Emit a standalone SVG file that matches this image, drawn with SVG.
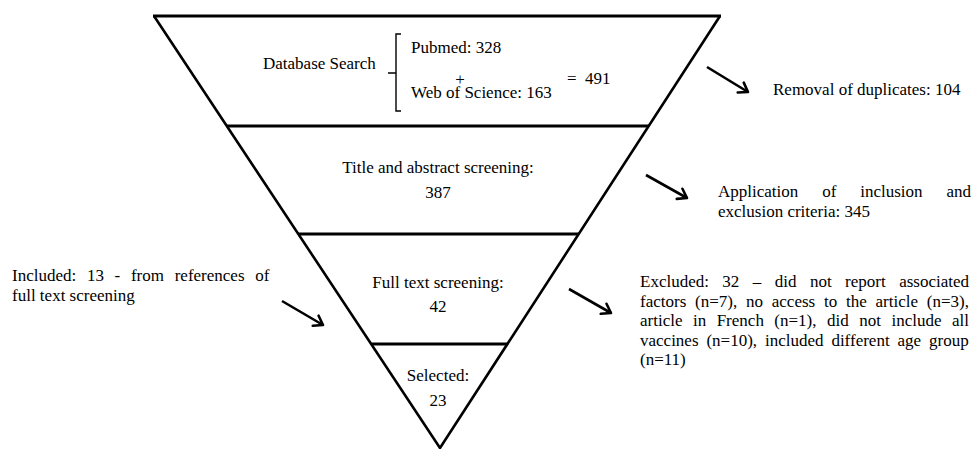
<svg xmlns="http://www.w3.org/2000/svg" width="972" height="449" viewBox="0 0 972 449">
<style>
text{font-family:"Liberation Serif","Times New Roman",serif;font-size:17px;fill:#000}
.c{text-anchor:middle}
.side{fill:none;stroke:#000;stroke-width:2.6;stroke-linejoin:miter}
.div{stroke:#000;stroke-width:3.2;fill:none}
.br{fill:none;stroke:#000;stroke-width:1.4}
.arr{stroke:#000;stroke-width:2.6;fill:none;marker-end:url(#ah)}
</style>
<defs>
<marker id="ah" markerUnits="userSpaceOnUse" viewBox="-11 -8 13 16" markerWidth="13" markerHeight="16" refX="0" refY="0" orient="auto">
<path d="M-8.5,-5.8 L0,0 L-8.5,5.8" fill="none" stroke="#000" stroke-width="2.6" stroke-linejoin="round" stroke-linecap="round"/>
</marker>
</defs>
<g id="funnel">
<path class="side" d="M154,16 L440,448 L720,16"/>
</g>
<g id="database-search">
<line class="div" x1="153" y1="16" x2="721" y2="16"/>
<text x="263" y="69">Database Search</text>
<path class="br" d="M401,34 H396 V111 H401 M388,73 H396"/>
<text x="411" y="53">Pubmed: 328</text>
<text class="c" x="460" y="85">+</text>
<text x="411" y="98">Web of Science: 163</text>
<text x="567" y="84" xml:space="preserve">=  491</text>
</g>
<g id="title-abstract">
<line class="div" x1="226.8" y1="126" x2="648.7" y2="126"/>
<text class="c" x="438" y="173">Title and abstract screening:</text>
<text class="c" x="438" y="198">387</text>
</g>
<g id="full-text">
<line class="div" x1="298.3" y1="234" x2="578.7" y2="234"/>
<text class="c" x="438" y="288">Full text screening:</text>
<text class="c" x="438" y="312">42</text>
</g>
<g id="selected">
<line class="div" x1="371.1" y1="344" x2="507.5" y2="344"/>
<text class="c" x="438" y="381">Selected:</text>
<text class="c" x="438" y="406">23</text>
</g>
<g id="removal">
<text x="773" y="95">Removal of duplicates: 104</text>
</g>
<g id="application">
<text x="718" y="197" style="word-spacing:19.65px">Application of inclusion and</text>
<text x="718" y="216.5">exclusion criteria: 345</text>
</g>
<g id="included">
<text x="12" y="281" style="word-spacing:6.45px">Included: 13 - from references of</text>
<text x="12" y="301">full text screening</text>
</g>
<g id="excluded">
<text x="640" y="287" style="word-spacing:9.2px">Excluded: 32 – did not report associated</text>
<text x="640" y="306.6" style="word-spacing:4.54px">factors (n=7), no access to the article (n=3),</text>
<text x="640" y="326.2" style="word-spacing:6.24px">article in French (n=1), did not include all</text>
<text x="640" y="345.8" style="word-spacing:3.64px">vaccines (n=10), included different age group</text>
<text x="640" y="365.4">(n=11)</text>
</g>
<g id="connectors">
<line class="arr" x1="707" y1="67" x2="748" y2="92"/>
<line class="arr" x1="646" y1="175" x2="687" y2="198"/>
<line class="arr" x1="282" y1="301" x2="323" y2="325"/>
<line class="arr" x1="569" y1="289" x2="611" y2="313"/>
</g>
</svg>
